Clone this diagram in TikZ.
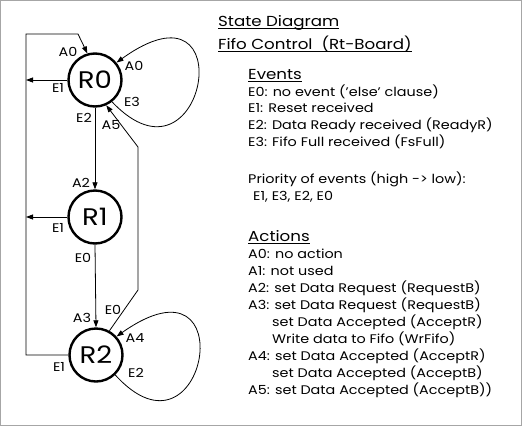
\documentclass[tikz,border=0pt]{standalone}
\usepackage{fontspec}
\setmainfont{Poppins}[FakeStretch=1.15]
\usetikzlibrary{arrows.meta}
\begin{document}
\begin{tikzpicture}[x=1pt,y=-1pt,
  state/.style={circle,draw,line width=2.4pt,minimum size=53pt,inner sep=0pt,font=\fontsize{24}{24}\selectfont},
  conn/.style={line width=0.8pt,-{Triangle[length=7pt,width=5pt]}},
  plain/.style={line width=0.8pt},
  lbl/.style={font=\fontsize{12.5}{12.5}\selectfont,inner sep=0pt},
  txt/.style={anchor=base west,inner sep=0pt,font=\fontsize{12.5}{12.5}\selectfont},
  ttl/.style={anchor=base west,inner sep=0pt,font=\fontsize{14.5}{14.5}\selectfont},
  sec/.style={anchor=base west,inner sep=0pt,font=\fontsize{14.5}{14.5}\selectfont}]
\useasboundingbox (0,0) rectangle (522,426);
\draw[gray!70,line width=1pt] (0.5,0.5) rectangle (521.5,425.5);
% states
\node[state] (R0) at (95,80) {R0};
\node[state] (R1) at (95,217) {R1};
\node[state] (R2) at (96,355) {R2};
% left reset line
\coordinate (lb) at (26,355);
\coordinate (lt) at (26,34);
\coordinate (lm) at (78,34);
\coordinate (l0) at (26,80);
\coordinate (l1) at (26,217);
\draw[conn] (R2.west) -- (lb) -- (lt) -- (lm) -- (R0.106);
\draw[conn] (R0.west) -- (l0);
\draw[conn] (R1.west) -- (l1);
% down transitions
\draw[conn] (R0.south) -- (R1.north);
\draw[conn] (R1.south) -- (R2.north);
% back transition R2 -> R0
\coordinate (b1) at (138,290);
\coordinate (b2) at (138,147);
\draw[conn] (R2.61) -- (b1) -- (b2) -- (R0.-66);
% self loops
\draw[conn] (R0.-52) .. controls (205,200) and (245,-30) .. (R0.39);
\draw[conn] (R2.-46) .. controls (206,475) and (246,245) .. (R2.42);
% labels
\node[lbl] (la0a) at (68,52) {A0};
\node[lbl] (la0b) at (134,66) {A0};
\node[lbl] (le1a) at (58,88) {E1};
\node[lbl] (le3) at (132,102) {E3};
\node[lbl] (le2a) at (84,118) {E2};
\node[lbl] (la5) at (111,125) {A5};
\node[lbl] (la2) at (81,183) {A2};
\node[lbl] (le1b) at (58,228) {E1};
\node[lbl] (le0a) at (83,258) {E0};
\node[lbl] (le0b) at (113,310) {E0};
\node[lbl] (la3) at (82,318) {A3};
\node[lbl] (la4) at (135,338) {A4};
\node[lbl] (le1c) at (59,367) {E1};
\node[lbl] (le2b) at (136,373) {E2};
% text
\node[ttl] (t1) at (218,26) {State Diagram};
\node[ttl] (t2) at (218,49) {Fifo Control\ \ (Rt-Board)};
\node[sec] (ev) at (248,79) {Events};
\node[txt] (e0) at (248,96) {E0: no event ('else' clause)};
\node[txt] (e1) at (248,112) {E1: Reset received};
\node[txt] (e2) at (248,129) {E2: Data Ready received (ReadyR)};
\node[txt] (e3) at (248,146) {E3: Fifo Full received (FsFull)};
\node[txt] (pr) at (248,183) {Priority of events (high -> low):};
\node[txt] (pl) at (253,200) {E1, E3, E2, E0};
\node[sec] (ac) at (248,241) {Actions};
\node[txt] (a0) at (248,258) {A0: no action};
\node[txt] (a1) at (248,275) {A1: not used};
\node[txt] (a2) at (248,292) {A2: set Data Request (RequestB)};
\node[txt] (a3) at (248,309) {A3: set Data Request (RequestB)};
\node[txt] (a3b) at (272,326) {set Data Accepted (AcceptR)};
\node[txt] (a3c) at (272,343) {Write data to Fifo (WrFifo)};
\node[txt] (a4) at (248,360) {A4: set Data Accepted (AcceptR)};
\node[txt] (a4b) at (272,377) {set Data Accepted (AcceptB)};
\node[txt] (a5) at (248,394) {A5: set Data Accepted (AcceptB))};
% underlines
\foreach \n in {t1,t2,ev,ac}
  \draw[plain] ([yshift=-2pt]\n.base west) -- ([yshift=-2pt]\n.base east);
\end{tikzpicture}
\end{document}
